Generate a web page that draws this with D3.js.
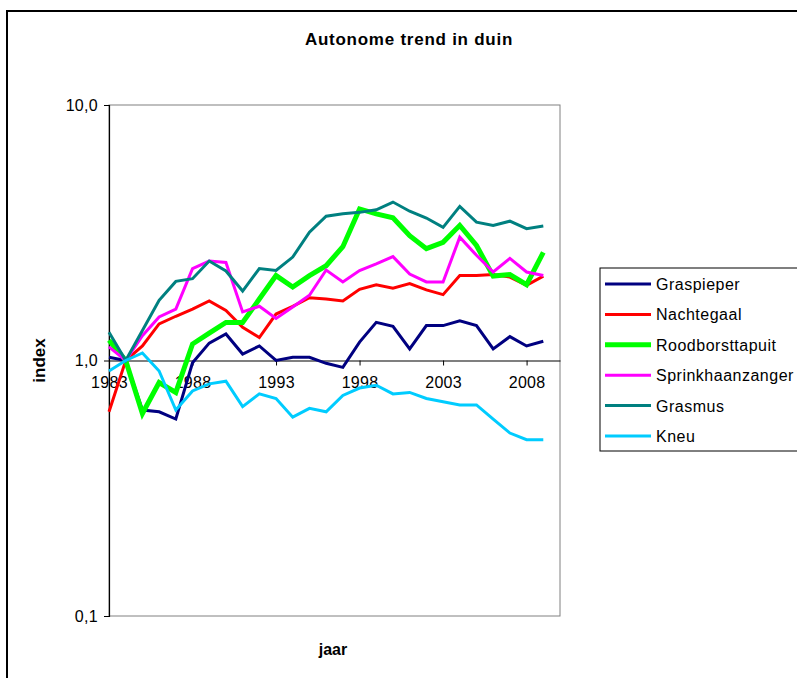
<!DOCTYPE html>
<html><head><meta charset="utf-8">
<script src="https://cdn.jsdelivr.net/npm/d3@7"></script>
<style>body{margin:0;background:#fff}svg{display:block;font-family:"Liberation Sans",Arial,sans-serif}</style>
</head><body>
<svg id="c" width="797" height="678"></svg>
<script>
const years = d3.range(1983, 2010);
const xTickYears = [1983, 1988, 1993, 1998, 2003, 2008];
const yTicks = [0.1, 1, 10];
const seriesNames = ["Graspieper","Nachtegaal","Roodborsttapuit","Sprinkhaanzanger","Grasmus","Kneu"];
const seriesColors = ["#000080","#FF0000","#00FF00","#FF00FF","#008080","#00CCFF"];
const seriesWidths = [3,3,5,3,3,3];
const graspieper = [1.03,1.0,0.64,0.63,0.59,0.98,1.17,1.27,1.06,1.14,1.0,1.03,1.03,0.975,0.94,1.18,1.41,1.36,1.11,1.37,1.37,1.43,1.37,1.11,1.24,1.14,1.19];
const nachtegaal = [0.63,1.0,1.14,1.39,1.49,1.59,1.71,1.57,1.35,1.23,1.52,1.63,1.76,1.74,1.71,1.90,1.98,1.92,2.00,1.89,1.81,2.15,2.15,2.17,2.12,1.97,2.14];
const roodborsttapuit = [1.20,1.0,0.62,0.82,0.75,1.16,1.28,1.41,1.41,1.74,2.15,1.94,2.15,2.35,2.79,3.92,3.75,3.62,3.08,2.74,2.90,3.38,2.82,2.14,2.17,1.98,2.65];
const sprinkhaanzanger = [1.13,1.0,1.25,1.48,1.59,2.29,2.45,2.42,1.55,1.63,1.46,1.62,1.80,2.26,2.03,2.25,2.39,2.55,2.18,2.03,2.03,3.04,2.58,2.22,2.51,2.22,2.15];
const grasmus = [1.29,1.0,1.31,1.72,2.04,2.09,2.45,2.24,1.87,2.29,2.25,2.54,3.18,3.67,3.75,3.80,3.89,4.17,3.84,3.61,3.32,4.01,3.48,3.38,3.51,3.28,3.36];
const kneu = [0.91,1.0,1.07,0.91,0.64,0.76,0.81,0.83,0.66,0.74,0.71,0.60,0.65,0.63,0.73,0.78,0.80,0.74,0.75,0.71,0.69,0.67,0.67,0.59,0.52,0.49,0.49];
const seriesValues = [graspieper,nachtegaal,roodborsttapuit,sprinkhaanzanger,grasmus,kneu];

const svg = d3.select("#c");
// outer chart border
svg.append("rect").attr("x",7).attr("y",11).attr("width",800).attr("height",700)
  .attr("fill","none").attr("stroke","#000").attr("stroke-width",2);

const L=109, R=560, T=105, B=616;
const x = d3.scaleLinear().domain([1983,2010]).range([L,R]);
const y = d3.scaleLog().domain([0.1,10]).range([B,T]);

// plot area border (gray)
svg.append("rect").attr("x",L).attr("y",T).attr("width",R-L).attr("height",B-T)
  .attr("fill","none").attr("stroke","#808080").attr("stroke-width",1);

// title
svg.append("text").attr("x",409).attr("y",45).attr("text-anchor","middle")
  .attr("font-weight","bold").attr("font-size","17px").attr("letter-spacing","0.75px")
  .text("Autonome trend in duin");

// y axis
const yAxis = d3.axisLeft(y).tickValues(yTicks).tickSize(5).tickPadding(6)
  .tickFormat(d => d3.format(".1f")(d).replace(".", ","));
const gy = svg.append("g").attr("transform",`translate(${L},0)`).call(yAxis);
gy.select(".domain").attr("stroke","#000").attr("stroke-width",1.2);
gy.selectAll("text").attr("font-size","16px").attr("letter-spacing","0.3px")
  .attr("font-family","Liberation Sans, Arial, sans-serif");

// x axis at y=1
const xAxis = d3.axisBottom(x).tickValues(xTickYears).tickSize(5).tickPadding(11)
  .tickFormat(d3.format("d")).tickSizeOuter(0);
const gx = svg.append("g").attr("transform",`translate(0,${y(1)})`).call(xAxis);
gx.select(".domain").attr("stroke","#000").attr("stroke-width",1.2);
gx.selectAll("text").attr("font-size","16px").attr("letter-spacing","0.3px")
  .attr("font-family","Liberation Sans, Arial, sans-serif");

// axis titles
svg.append("text").attr("x",333).attr("y",655).attr("text-anchor","middle")
  .attr("font-weight","bold").attr("font-size","16px").text("jaar");
svg.append("text").attr("transform",`translate(45,${y(1)}) rotate(-90)`).attr("text-anchor","middle")
  .attr("font-weight","bold").attr("font-size","17px").text("index");

// lines
const line = d3.line().x((d,i)=>x(years[i])).y(d=>y(d));
seriesValues.forEach((vals,k)=>{
  svg.append("path").datum(vals).attr("d",line).attr("fill","none")
    .attr("stroke",seriesColors[k]).attr("stroke-width",seriesWidths[k])
    .attr("stroke-linejoin","miter");
});

// legend
const lg = svg.append("g");
lg.append("rect").attr("x",600).attr("y",268).attr("width",220).attr("height",183)
  .attr("fill","#fff").attr("stroke","#000").attr("stroke-width",1);
seriesNames.forEach((n,k)=>{
  const yy = 284 + k*30.4;
  lg.append("line").attr("x1",605).attr("x2",651).attr("y1",yy).attr("y2",yy)
    .attr("stroke",seriesColors[k]).attr("stroke-width",seriesWidths[k]);
  lg.append("text").attr("x",656).attr("y",yy+6).attr("font-size","16px")
    .attr("letter-spacing","0.5px").text(n);
});
</script>
</body></html>
